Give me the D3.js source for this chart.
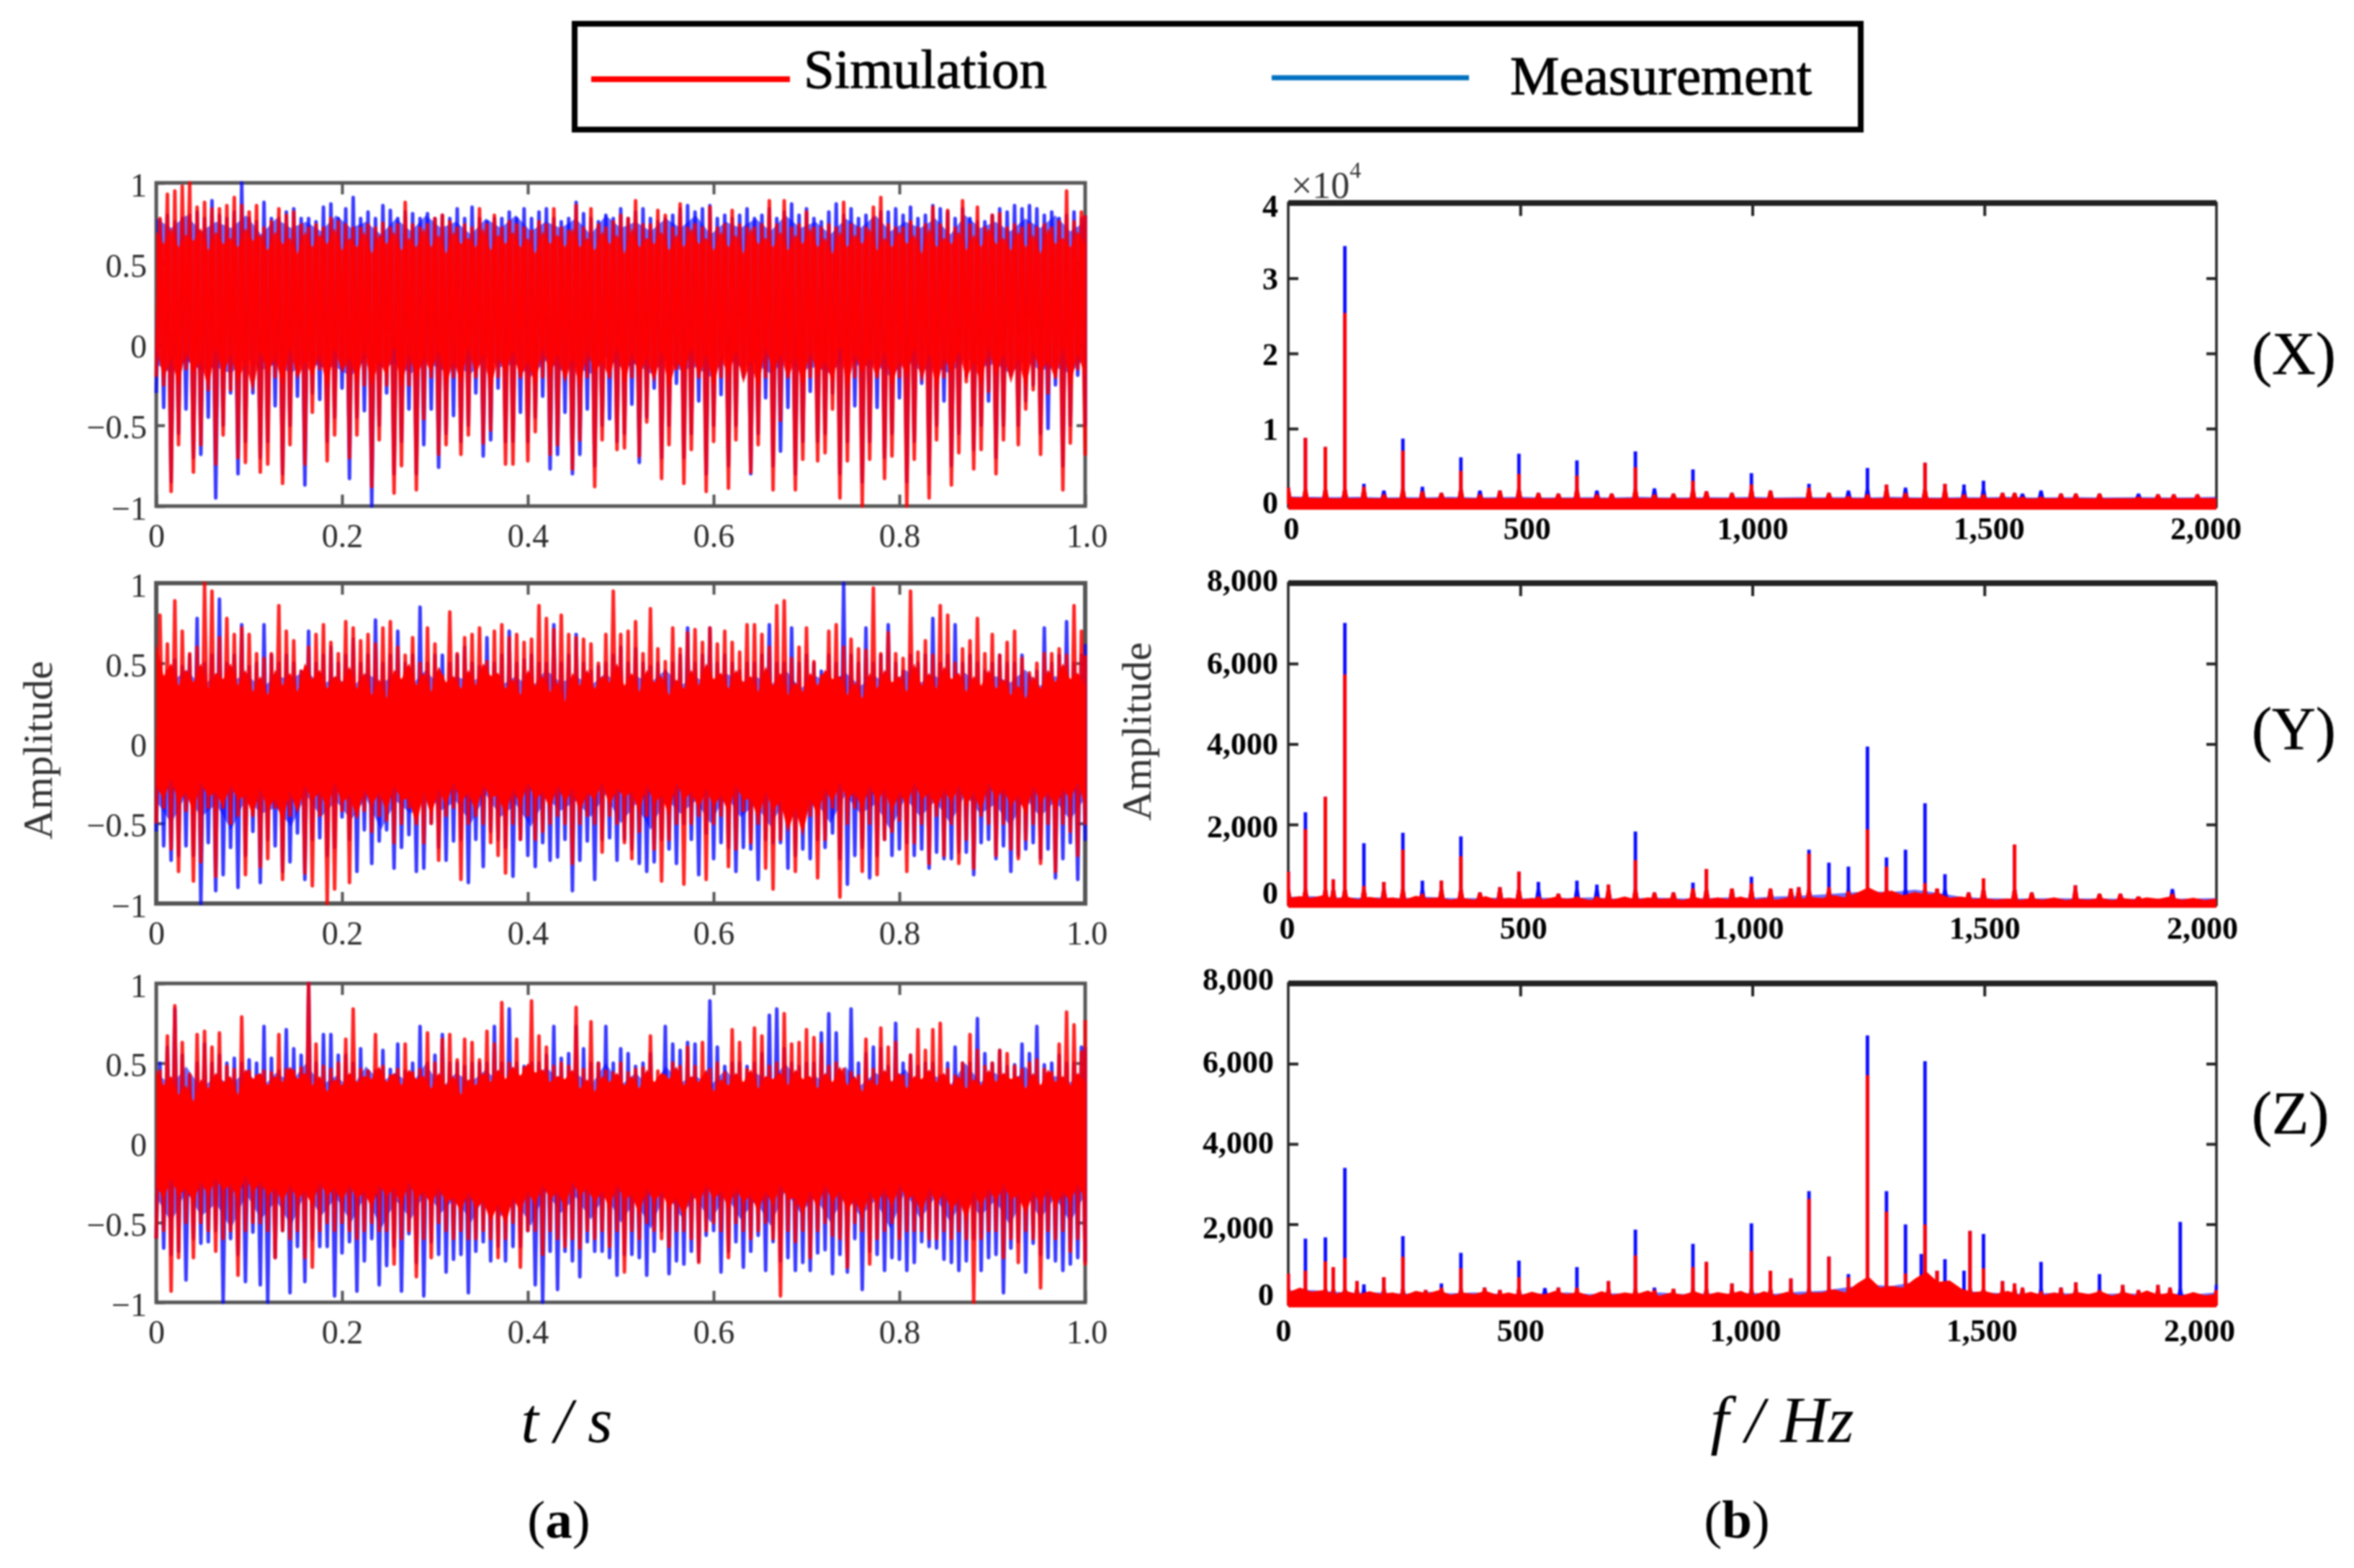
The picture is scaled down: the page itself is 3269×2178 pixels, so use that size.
<!DOCTYPE html>
<html lang="en">
<head>
<meta charset="UTF-8">
<title>Simulation and measurement</title>
<script src="https://cdn.jsdelivr.net/npm/d3@7/dist/d3.min.js"></script>
<style>
  body, html {
    margin: 0;
    background: #fff;
  }
  svg {
    display: block;
    filter: blur(1px);
    font-family: "Liberation Serif", serif;
  }
</style>
</head>
<body>
<svg width="3269" height="2178"></svg>
<script>
// time traces, read spike by spike from the picture (about 125 swings per panel)
const xSimHi = [.78,.93,.95,.98,1,.85,.88,.84,.84,.86,.91,.86,.82,.86,.72,.76,.84,.8,.82,.74,.72,.74,.72,.78,.76,.74,.72,.72,.74,.72,.75,.72,.74,.88,.74,.72,.74,.78,.8,.76,.72,.74,.72,.84,.74,.8,.72,.76,.74,.72,.7,.76,.74,.84,.72,.7,.86,.72,.84,.74,.72,.76,.8,.78,.89,.74,.74,.83,.8,.72,.87,.72,.74,.72,.85,.72,.74,.83,.74,.72,.72,.74,.89,.74,.89,.72,.74,.82,.72,.72,.74,.72,.88,.74,.72,.72,.85,.91,.74,.72,.72,.76,.72,.74,.85,.74,.83,.72,.89,.74,.85,.72,.8,.81,.72,.74,.72,.74,.72,.74,.72,.76,.95,.76,.82,.8];
const xSimLo = [-.2,-.25,-.91,-.62,-.15,-.79,-.62,-.28,-.74,-.56,-.28,-.7,-.73,-.12,-.79,-.74,-.2,-.86,-.62,-.18,-.74,-.42,-.15,-.72,-.56,-.12,-.7,-.56,-.25,-.88,-.59,-.25,-.92,-.75,-.25,-.9,-.46,-.2,-.68,-.62,-.2,-.68,-.56,-.2,-.61,-.53,-.2,-.74,-.74,-.2,-.72,-.54,-.2,-.68,-.62,-.2,-.77,-.59,-.2,-.88,-.59,-.2,-.65,-.64,-.2,-.69,-.48,-.18,-.83,-.62,-.15,-.86,-.65,-.2,-.91,-.6,-.2,-.89,-.59,-.15,-.79,-.62,-.2,-.9,-.47,-.2,-.9,-.71,-.2,-.72,-.67,-.4,-.95,-.72,-.2,-1,-.71,-.2,-.83,-.69,-.2,-1,-.71,-.15,-.95,-.59,-.2,-.87,-.67,-.23,-.77,-.65,-.29,-.8,-.59,-.15,-.62,-.4,-.28,-.68,-.3,-.2,-.9,-.61,-.15,-.68];
const xMeaHi = [.77,.8,.76,.78,.8,.82,.78,.89,.8,.78,.82,1,.78,.76,.88,.78,.78,.82,.84,.78,.78,.76,.85,.87,.78,.84,.91,.78,.82,.78,.86,.83,.78,.82,.81,.78,.81,.78,.8,.78,.84,.78,.85,.78,.76,.78,.78,.82,.78,.84,.78,.82,.84,.78,.76,.78,.88,.81,.78,.76,.8,.78,.84,.78,.82,.84,.78,.76,.78,.8,.84,.86,.82,.84,.86,.78,.8,.78,.8,.84,.78,.8,.84,.78,.82,.87,.8,.84,.78,.76,.82,.87,.8,.84,.78,.8,.78,.82,.82,.84,.8,.85,.78,.8,.86,.84,.82,.78,.84,.78,.76,.76,.8,.84,.82,.86,.84,.86,.84,.8,.82,.78,.8,.82,.78,.8];
const xMeaLo = [-.3,-.39,-.85,-.55,-.4,-.7,-.68,-.45,-.95,-.5,-.3,-.8,-.6,-.3,-.7,-.6,-.38,-.8,-.5,-.32,-.87,-.3,-.34,-.6,-.45,-.27,-.83,-.45,-.41,-1,-.5,-.3,-.8,-.6,-.4,-.8,-.62,-.4,-.76,-.55,-.44,-.6,-.5,-.3,-.69,-.59,-.27,-.6,-.6,-.42,-.6,-.45,-.32,-.77,-.68,-.42,-.8,-.68,-.4,-.75,-.5,-.46,-.6,-.55,-.37,-.73,-.45,-.27,-.7,-.5,-.24,-.7,-.55,-.35,-.8,-.5,-.31,-.75,-.5,-.2,-.8,-.55,-.33,-.75,-.66,-.39,-.8,-.6,-.29,-.6,-.55,-.3,-.8,-.6,-.38,-.85,-.6,-.39,-.7,-.55,-.33,-.85,-.6,-.24,-.8,-.5,-.35,-.75,-.55,-.2,-.65,-.5,-.35,-.7,-.5,-.19,-.5,-.35,-.25,-.55,-.52,-.25,-.75,-.5,-.19,-.5];
const xCoreHi = [.7,.62,.72,.6,.68,.64,.72,.58,.7,.62,.66,.6,.72,.64,.68,.58,.7,.62,.66,.56,.7,.6,.68,.62,.72,.58,.66,.6,.7,.56,.68,.62,.7,.58,.66,.6,.72,.6,.68,.56,.7,.62,.66,.6,.72,.58,.68,.62,.7,.6,.66,.56,.7,.62,.68,.6,.72,.6,.66,.58,.7,.62,.68,.56,.72,.6,.66,.62,.7,.58,.68,.6,.72,.62,.66,.58,.7,.6,.68,.56,.72,.62,.66,.6,.7,.58,.68,.62,.72,.6,.66,.56,.7,.6,.68,.62,.72,.58,.66,.6,.7,.62,.68,.56,.72,.6,.66,.62,.7,.58,.68,.6,.72,.62,.66,.58,.7,.6,.68,.56,.72,.62,.66,.6,.7,.62];
const xCoreLo = [-.02,-.22,-.08,-.26,-.04,-.18,-.1,-.28,-.02,-.2,-.06,-.24,-.1,-.3,-.04,-.18,-.08,-.26,-.02,-.22,-.1,-.2,-.06,-.28,-.02,-.18,-.08,-.24,-.04,-.26,-.1,-.2,-.02,-.28,-.06,-.22,-.08,-.18,-.04,-.26,-.1,-.24,-.02,-.2,-.06,-.28,-.08,-.18,-.04,-.22,-.1,-.26,-.02,-.2,-.06,-.24,-.08,-.28,-.04,-.18,-.1,-.22,-.02,-.26,-.06,-.2,-.08,-.24,-.04,-.28,-.1,-.18,-.02,-.22,-.06,-.26,-.08,-.2,-.04,-.24,-.1,-.28,-.02,-.18,-.06,-.22,-.08,-.26,-.04,-.2,-.1,-.24,-.02,-.28,-.06,-.18,-.08,-.22,-.04,-.26,-.1,-.2,-.02,-.24,-.06,-.28,-.08,-.18,-.04,-.22,-.1,-.26,-.02,-.2,-.06,-.24,-.08,-.28,-.04,-.18,-.1,-.22,-.02,-.26,-.06,-.2];
const xMeaCoreHi = [.78,.72,.8,.7,.76,.72,.8,.68,.78,.72,.76,.7,.8,.72,.76,.68,.78,.7,.8,.72,.76,.68,.78,.72,.8,.7,.76,.72,.78,.68,.8,.72,.76,.7,.78,.72,.8,.68,.76,.72,.78,.7,.8,.72,.76,.68,.78,.72,.8,.7,.76,.72,.78,.68,.8,.72,.76,.7,.78,.72,.8,.7,.76];
const xMeaCoreLo = [-.12,-.18,-.1,-.16,-.14,-.18,-.08,-.16,-.12,-.18,-.1,-.14,-.14,-.2,-.08,-.14,-.12,-.18,-.1,-.16,-.14,-.18,-.08,-.14,-.12,-.2,-.1,-.16,-.14,-.18,-.08,-.14,-.12,-.18,-.1,-.16,-.14,-.2,-.08,-.14,-.12,-.18,-.1,-.16,-.14,-.18,-.08,-.14,-.12,-.2,-.1,-.16,-.14,-.18,-.08,-.14,-.12,-.18,-.1,-.16,-.14,-.18,-.08];

const ySimHi = [.8,.62,.89,.7,.56,.6,1,.95,.66,.78,.68,.72,.68,.56,.53,.56,.86,.7,.64,.45,.6,.68,.74,.63,.56,.76,.72,.64,.68,.62,.72,.76,.6,.55,.66,.5,.72,.62,.42,.82,.56,.66,.68,.72,.51,.7,.74,.66,.68,.63,.65,.86,.78,.71,.8,.68,.66,.65,.62,.5,.68,.95,.68,.7,.76,.56,.84,.59,.51,.72,.59,.69,.71,.63,.72,.62,.7,.63,.57,.74,.74,.68,.6,.86,.89,.53,.6,.72,.51,.42,.7,.74,.6,.65,.59,.58,.97,.56,.69,.56,.53,.95,.57,.64,.55,.86,.8,.5,.59,.64,.78,.56,.68,.55,.63,.7,.53,.44,.5,.56,.56,.59,.55,.86,.7,.55];
const ySimLo = [-.5,-.4,-.66,-.8,-.42,-.86,-.74,-.4,-.83,-.4,-.5,-.45,-.82,-.45,-.77,-.72,-.4,-.85,-.45,-.4,-.81,-.89,-.45,-1,-.91,-.42,-.87,-.45,-.42,-.55,-.45,-.48,-.62,-.5,-.4,-.5,-.62,-.5,-.73,-.45,-.4,-.85,-.5,-.45,-.5,-.62,-.7,-.81,-.5,-.6,-.45,-.6,-.55,-.5,-.45,-.5,-.75,-.5,-.45,-.5,-.68,-.45,-.5,-.62,-.72,-.55,-.45,-.66,-.86,-.6,-.5,-.88,-.5,-.45,-.85,-.5,-.45,-.77,-.66,-.42,-.62,-.5,-.78,-.91,-.6,-.42,-.8,-.5,-.45,-.84,-.6,-.4,-.96,-.5,-.4,-.8,-.5,-.82,-.6,-.55,-.48,-.8,-.62,-.5,-.75,-.45,-.7,-.5,-.75,-.6,-.78,-.45,-.5,-.7,-.5,-.66,-.72,-.6,-.5,-.75,-.5,-.8,-.5,-.55,-.7,-.5];
const yMeaHi = [.5,.45,.52,.48,.55,.78,.5,.55,.9,.5,.55,.74,.48,.5,.74,.55,.5,.55,.5,.45,.7,.5,.55,.6,.5,.55,.65,.5,.55,.77,.5,.55,.7,.5,.55,.85,.5,.55,.55,.5,.55,.6,.5,.48,.66,.5,.55,.7,.5,.52,.55,.5,.5,.74,.5,.55,.68,.5,.45,.48,.5,.55,.6,.5,.59,.5,.48,.5,.45,.5,.55,.72,.5,.55,.72,.5,.55,.5,.45,.5,.5,.55,.74,.5,.5,.72,.5,.55,.5,.45,.55,.5,1,.55,.5,.72,.5,.55,.74,.5,.45,.55,.5,.55,.78,.5,.55,.74,.5,.55,.5,.45,.5,.55,.5,.5,.55,.42,.45,.72,.5,.55,.76,.5,.55,.62];
const yMeaLo = [-.55,-.64,-.73,-.7,-.64,-.7,-1,-.62,-.92,-.82,-.65,-.9,-.7,-.55,-.87,-.6,-.64,-.8,-.74,-.56,-.85,-.6,-.59,-.7,-.65,-.46,-.6,-.8,-.54,-.75,-.61,-.54,-.78,-.65,-.57,-.8,-.78,-.5,-.65,-.73,-.61,-.6,-.87,-.6,-.77,-.55,-.6,-.65,-.83,-.6,-.7,-.77,-.62,-.73,-.71,-.6,-.92,-.73,-.61,-.85,-.6,-.59,-.73,-.6,-.66,-.75,-.8,-.74,-.6,-.66,-.75,-.5,-.6,-.82,-.56,-.72,-.62,-.65,-.8,-.65,-.66,-.85,-.6,-.62,-.62,-.78,-.7,-.66,-.72,-.6,-.65,-.56,-.72,-.88,-.7,-.65,-.84,-.7,-.6,-.7,-.66,-.62,-.7,-.66,-.78,-.68,-.72,-.72,-.68,-.68,-.82,-.62,-.6,-.72,-.64,-.8,-.7,-.66,-.62,-.72,-.66,-.84,-.72,-.62,-.85,-.6];
const yCoreHi = [.62,.42,.5,.36,.46,.38,.5,.34,.44,.4,.5,.36,.46,.32,.42,.3,.46,.36,.44,.32,.5,.4,.46,.34,.42,.38,.48,.34,.44,.3,.4,.28,.46,.4,.5,.36,.44,.32,.48,.38,.42,.34,.46,.36,.5,.42,.44,.34,.4,.3,.46,.36,.42,.32,.38,.26,.44,.36,.46,.34,.42,.38,.5,.36,.44,.32,.46,.38,.42,.3,.4,.34,.46,.36,.5,.4,.44,.34,.46,.38,.42,.32,.48,.36,.44,.3,.38,.32,.44,.36,.46,.4,.42,.3,.38,.28,.44,.34,.46,.38,.42,.32,.5,.36,.44,.34,.48,.4,.44,.32,.42,.36,.46,.34,.4,.3,.36,.28,.42,.34,.46,.38,.5,.4,.44,.36];
const yCoreLo = [-.26,-.36,-.22,-.38,-.3,-.44,-.24,-.34,-.3,-.4,-.26,-.36,-.32,-.46,-.28,-.42,-.34,-.5,-.3,-.44,-.26,-.36,-.3,-.42,-.24,-.38,-.32,-.48,-.28,-.4,-.3,-.44,-.26,-.36,-.34,-.52,-.3,-.46,-.28,-.4,-.24,-.38,-.3,-.44,-.26,-.34,-.32,-.46,-.28,-.4,-.24,-.36,-.3,-.42,-.26,-.38,-.28,-.44,-.3,-.36,-.24,-.4,-.28,-.34,-.3,-.44,-.26,-.38,-.32,-.46,-.24,-.36,-.3,-.42,-.28,-.4,-.32,-.44,-.26,-.36,-.34,-.48,-.3,-.42,-.36,-.56,-.4,-.58,-.34,-.46,-.28,-.38,-.24,-.36,-.3,-.42,-.26,-.38,-.28,-.44,-.3,-.4,-.24,-.36,-.3,-.42,-.28,-.38,-.26,-.4,-.3,-.44,-.24,-.36,-.28,-.4,-.32,-.46,-.26,-.38,-.3,-.42,-.28,-.36,-.24,-.4];
const yMeaCoreHi = [.44,.38,.46,.36,.42,.38,.44,.34,.42,.4,.46,.36,.42,.34,.44,.38,.42,.36,.46,.34,.42,.38,.44,.36,.42,.34,.46,.38,.42,.36,.44,.34,.42,.38,.46,.36,.42,.34,.44,.38,.42,.36,.46,.34,.42,.38,.44,.36,.42,.34,.46,.38,.42,.36,.44,.34,.42,.38,.46,.36,.42,.38,.44];
const yMeaCoreLo = [-.36,-.5,-.32,-.46,-.38,-.54,-.34,-.44,-.4,-.52,-.32,-.46,-.36,-.48,-.34,-.54,-.36,-.44,-.3,-.42,-.36,-.5,-.32,-.46,-.38,-.52,-.34,-.42,-.36,-.46,-.32,-.5,-.38,-.54,-.34,-.44,-.36,-.5,-.32,-.46,-.38,-.52,-.34,-.42,-.36,-.5,-.32,-.44,-.38,-.54,-.34,-.46,-.36,-.5,-.32,-.44,-.38,-.52,-.34,-.46,-.36,-.48,-.34];

const zSimHi = [.45,.67,.86,.63,.43,.68,.7,.6,.69,.48,.46,.79,.45,.42,.45,.44,.68,.46,.45,.47,1,.62,.48,.46,.5,.65,.84,.46,.45,.68,.48,.42,.46,.62,.44,.46,.69,.5,.65,.68,.52,.65,.63,.52,.7,.62,.88,.5,.65,.47,.89,.67,.6,.48,.5,.48,.85,.46,.76,.5,.45,.44,.5,.44,.46,.47,.67,.45,.42,.5,.48,.6,.48,.63,.46,.5,.44,.71,.63,.46,.72,.67,.48,.5,.81,.62,.63,.71,.66,.62,.48,.5,.46,.44,.42,.65,.46,.72,.6,.63,.42,.55,.71,.58,.71,.75,.46,.42,.5,.68,.58,.48,.5,.58,.56,.48,.46,.5,.52,.46,.44,.62,.82,.74,.57,.77];
const zSimLo = [-.6,-.55,-.93,-.72,-.5,-.72,-.5,-.55,-.68,-.6,-.55,-.83,-.55,-.5,-.5,-.55,-.72,-.55,-.6,-.55,-.72,-.78,-.55,-.5,-.55,-.5,-.55,-.6,-.55,-.5,-.55,-.55,-.76,-.6,-.55,-.84,-.6,-.72,-.5,-.55,-.6,-.55,-.6,-.6,-.55,-.6,-.72,-.6,-.5,-.78,-.55,-.55,-.7,-.55,-.6,-.65,-.6,-.66,-.55,-.6,-.55,-.65,-.55,-.81,-.55,-.6,-.5,-.55,-.6,-.65,-.55,-.55,-.6,-.75,-.55,-.5,-.55,-.72,-.5,-.55,-.6,-.55,-.5,-.6,-.96,-.55,-.62,-.55,-.72,-.55,-.5,-.58,-.6,-.78,-.5,-.55,-.76,-.6,-.55,-.5,-.6,-.55,-.55,-.55,-.6,-.6,-.55,-.6,-.55,-.6,-1,-.6,-.55,-.55,-.72,-.6,-.75,-.55,-.6,-.91,-.55,-.6,-.55,-.68,-.6,-.76];
const zMeaHi = [.5,.6,.84,.55,.42,.5,.62,.5,.55,.5,.53,.5,.52,.5,.73,.53,.45,.71,.59,.55,1,.5,.68,.68,.55,.55,.5,.59,.45,.45,.58,.46,.62,.45,.5,.73,.5,.55,.68,.5,.5,.48,.5,.5,.5,.73,.5,.84,.5,.48,.5,.5,.55,.73,.53,.56,.73,.59,.5,.5,.73,.5,.59,.56,.48,.5,.56,.4,.73,.62,.58,.63,.62,.4,.89,.6,.48,.5,.5,.48,.5,.56,.8,.84,.59,.5,.48,.5,.5,.69,.81,.69,.42,.84,.5,.56,.6,.59,.48,.75,.5,.55,.48,.5,.5,.42,.5,.6,.5,.5,.78,.56,.5,.58,.48,.49,.62,.56,.73,.49,.5,.55,.5,.5,.6,.6];
const zMeaLo = [-.6,-.66,-.7,-.68,-.86,-.6,-.63,-.62,-.55,-1,-.6,-.7,-.87,-.56,-.89,-1,-.72,-.55,-.94,-.65,-.87,-.6,-.65,-.65,-.96,-.69,-.62,-.93,-.74,-.6,-.89,-.77,-.65,-.93,-.57,-.75,-.96,-.62,-.7,-.81,-.73,-.7,-.94,-.68,-.62,-.74,-.65,-.74,-.65,-.65,-.55,-.89,-1,-.68,-.92,-.68,-.74,-.84,-.62,-.68,-.68,-.72,-.83,-.7,-.7,-.72,-.83,-.68,-.55,-.82,-.74,-.76,-.68,-.74,-.58,-.55,-.81,-.68,-.62,-.78,-.68,-.58,-.8,-.62,-.74,-.72,-.8,-.75,-.8,-.69,-.67,-.82,-.7,-.81,-.6,-.92,-.68,-.7,-.8,-.72,-.73,-.8,-.75,-.62,-.65,-.66,-.73,-.75,-.8,-.74,-.6,-.8,-.72,-.7,-.94,-.66,-.62,-.81,-.63,-.7,-.72,-.74,-.8,-.76,-.72,-.74];
const zCoreHi = [.46,.36,.42,.3,.36,.26,.4,.34,.44,.38,.42,.3,.46,.4,.44,.36,.42,.38,.48,.4,.44,.36,.42,.32,.4,.36,.44,.38,.42,.4,.48,.38,.44,.36,.46,.4,.42,.34,.44,.36,.42,.3,.4,.36,.44,.38,.46,.4,.48,.42,.5,.44,.46,.38,.42,.4,.46,.34,.4,.32,.42,.38,.44,.36,.42,.34,.46,.38,.44,.4,.48,.36,.42,.38,.46,.32,.4,.36,.44,.38,.46,.34,.42,.4,.44,.36,.46,.4,.42,.34,.44,.38,.48,.36,.42,.32,.4,.36,.46,.38,.44,.34,.42,.4,.46,.38,.44,.36,.42,.34,.4,.36,.46,.38,.44,.4,.42,.34,.44,.36,.46,.38,.42,.36,.44,.38];
const zCoreLo = [-.26,-.36,-.22,-.34,-.28,-.38,-.24,-.34,-.22,-.3,-.26,-.36,-.2,-.32,-.24,-.34,-.28,-.38,-.26,-.36,-.3,-.4,-.24,-.34,-.28,-.38,-.26,-.36,-.3,-.42,-.26,-.34,-.28,-.4,-.24,-.36,-.3,-.4,-.28,-.38,-.34,-.44,-.3,-.42,-.36,-.5,-.38,-.52,-.34,-.44,-.3,-.4,-.26,-.36,-.3,-.42,-.24,-.34,-.28,-.38,-.3,-.42,-.26,-.36,-.32,-.46,-.28,-.38,-.3,-.42,-.34,-.48,-.3,-.4,-.26,-.36,-.3,-.42,-.28,-.38,-.32,-.44,-.3,-.4,-.26,-.36,-.34,-.46,-.3,-.42,-.26,-.38,-.3,-.44,-.34,-.48,-.3,-.4,-.28,-.42,-.26,-.36,-.32,-.46,-.28,-.4,-.3,-.44,-.34,-.5,-.3,-.42,-.28,-.38,-.26,-.36,-.32,-.46,-.3,-.4,-.28,-.42,-.3,-.38,-.26,-.36];
const zMeaCoreHi = [.44,.36,.48,.34,.42,.36,.46,.34,.44,.38,.5,.36,.42,.34,.48,.38,.44,.36,.5,.34,.44,.38,.46,.36,.42,.34,.48,.38,.44,.36,.5,.36,.44,.34,.48,.38,.42,.36,.46,.34,.44,.38,.5,.36,.42,.34,.48,.36,.44,.38,.46,.34,.42,.36,.5,.38,.44,.34,.48,.36,.42,.38,.46];
const zMeaCoreLo = [-.34,-.5,-.3,-.46,-.38,-.54,-.32,-.48,-.36,-.52,-.3,-.46,-.34,-.5,-.32,-.54,-.36,-.48,-.3,-.44,-.34,-.5,-.32,-.46,-.36,-.52,-.3,-.44,-.34,-.48,-.32,-.5,-.36,-.54,-.3,-.46,-.34,-.5,-.32,-.48,-.36,-.52,-.3,-.44,-.34,-.5,-.32,-.46,-.36,-.54,-.3,-.48,-.34,-.5,-.32,-.46,-.36,-.52,-.3,-.48,-.34,-.5,-.32];

// spectrum peaks: frequency, measurement and simulation height
const specXFreq = [0,37,80,122,163,206,247,289,330,372,413,456,497,539,582,622,665,697,748,789,830,872,901,956,998,1039,1122,1165,1207,1248,1289,1330,1372,1415,1456,1498,1539,1565,1582,1622,1665,1697,1748,1832,1874,1908,1959];
const specXMeas = [2100,8700,7500,34200,2600,1700,8600,2200,1400,6100,1700,1700,6600,1400,1300,5700,1700,1300,6900,2000,1300,4500,1600,1400,4000,1700,2600,1400,1700,4700,2500,2100,5400,2600,2500,3000,1400,1400,1300,1700,1300,1300,1300,1300,1200,1200,1200];
const specXSim = [2100,8700,7500,25300,2200,1200,7000,1600,1400,4300,1200,1700,3900,1400,1300,3700,1200,1300,4800,1200,1300,3000,1600,1400,2500,1700,2100,1400,1000,1200,2500,1400,5400,2600,1200,1200,1400,1400,900,900,1300,1300,1300,900,1200,1200,1200];
const specXFloor = [900,800,760,780,720,760,740,780,720,760,780,720,740,760,720,780,740,720,760,740,780,720,760,740,760,720,780,740,720,760,740,780,720,740,760,720,740,760,720,740,780];
const specXMeasFloor = [1000,950,900,950,850,900,880,950,850,900,950,850,880,900,850,950,880,850,900,880,950,850,900,880,900,850,950,880,850,900,880,950,850,880,900,850,880,900,850,880,950];

const specYFreq = [0,37,80,97,122,163,206,247,289,330,372,413,456,497,539,582,622,665,690,748,789,830,872,901,956,998,1039,1083,1100,1122,1165,1207,1248,1289,1330,1372,1398,1415,1466,1498,1565,1602,1696,1748,1793,1832,1905];
const specYMeas = [815,2290,2675,620,7000,1520,560,1780,590,590,1690,300,430,815,560,270,590,490,490,1810,300,300,540,880,400,690,400,400,430,1360,1040,940,3925,1170,1360,2515,400,750,300,650,1490,300,475,270,270,200,385];
const specYSim = [815,1870,2675,620,5720,460,560,1360,270,590,1200,300,430,815,200,270,200,200,490,1100,300,300,400,880,400,530,400,400,430,1260,430,330,1870,940,200,530,400,200,300,650,1490,300,475,270,270,200,270];
const specYFloor = [170,220,180,240,150,210,140,200,150,190,130,230,170,190,130,180,130,220,130,180,140,170,140,200,150,190,120,170,140,210,130,190,150,170,120,200,130,190,140,210,120,170,130,180,140,200,170,240,190,300,440,300,360,240,320,260,300,180,210,150,170,130,160,120,170,130,190,120,150,130,180,120,170,130,190,150,210,130,180,120,160];
const specYMeasFloor = [200,220,190,180,190,170,200,170,170,180,160,180,170,190,160,170,180,160,170,190,180,210,230,260,300,340,320,380,300,200,170,160,160,170,160,160,150,160,150,160,170];

const specZFreq = [0,37,80,97,122,148,163,206,247,296,330,372,423,456,497,553,582,622,690,748,789,830,872,901,956,998,1039,1083,1122,1165,1207,1248,1289,1330,1364,1372,1398,1415,1456,1469,1498,1539,1565,1582,1622,1665,1697,1748,1798,1832,1874,1900,1922,2000];
const specZMeas = [760,1630,1660,920,3390,570,490,670,1690,350,510,1275,410,350,1080,400,410,920,570,1850,410,380,1500,1050,510,2010,830,635,2810,1180,745,6690,2810,1980,1245,6050,830,1115,830,1820,1745,570,510,410,1050,410,540,745,475,350,475,410,2045,480];
const specZSim = [760,830,1065,920,1150,570,240,670,1180,350,410,890,410,350,670,250,410,410,570,1210,350,380,920,1050,510,1320,830,635,2620,1180,670,5700,2300,760,410,1980,830,410,240,1820,890,570,510,410,320,410,540,350,475,350,475,410,220,350];
const specZFloor = [300,420,320,360,260,340,250,330,260,300,230,340,280,360,240,300,260,340,240,300,230,320,240,340,260,310,220,330,240,300,260,350,220,300,240,330,230,310,260,340,220,330,230,320,240,300,300,380,300,520,700,420,460,420,640,820,560,600,400,300,340,260,340,240,320,230,300,240,310,260,330,220,320,230,350,240,300,220,310,230,260];
const specZMeasFloor = [350,360,320,290,300,270,320,280,300,270,260,280,300,260,280,270,300,260,280,270,290,270,320,340,420,500,460,560,520,350,300,280,270,290,270,260,280,260,270,250,300];

const timeTicks = [0, 0.2, 0.4, 0.6, 0.8, 1];
const timeTickLabels = ["0", "0.2", "0.4", "0.6", "0.8", "1.0"];
const ampTicks = [-1, -0.5, 0, 0.5, 1];
const ampTickLabels = ["\u22121", "\u22120.5", "0", "0.5", "1"];
const freqTicks = [0, 500, 1000, 1500, 2000];
const freqTickLabels = ["0", "500", "1,000", "1,500", "2,000"];

const svg = d3.select("svg");
const RED = "#ff0000", BLUE = "#0a0aff";

// one zig-zag trace: peaks and troughs take turns along the time axis
function zigzag(hi, lo) {
  const pts = [];
  lo.forEach((v, i) => pts.push([i / (lo.length - 1), v]));
  hi.forEach((v, i) => pts.push([Math.min(1, (i + 0.5) / (hi.length - 1)), v]));
  return pts.sort((a, b) => a[0] - b[0]);
}

function timePanel(box, s) {
  const x = d3.scaleLinear().domain([0, 1]).range([box.x0, box.x1]);
  const y = d3.scaleLinear().domain([-1, 1]).range([box.y1, box.y0]);
  const g = svg.append("g");
  const col = "#555";
  g.append("rect").attr("x", box.x0).attr("y", box.y0).attr("width", box.x1 - box.x0).attr("height", box.y1 - box.y0)
    .attr("fill", "none").attr("stroke", col).attr("stroke-width", box.sw);

  const bottom = d3.axisBottom(x).tickValues(timeTicks).tickSize(-16).tickFormat((d, i) => timeTickLabels[i]);
  const top = d3.axisTop(x).tickValues(timeTicks.slice(1, 5)).tickSize(-16).tickFormat("");
  const left = d3.axisLeft(y).tickValues(ampTicks).tickSize(-12).tickFormat((d, i) => ampTickLabels[i]);
  const right = d3.axisRight(y).tickValues(ampTicks.slice(1, 4)).tickSize(-12).tickFormat("");
  const gb = g.append("g").attr("transform", `translate(0,${box.y1})`).call(bottom);
  g.append("g").attr("transform", `translate(0,${box.y0})`).call(top);
  const gl = g.append("g").attr("transform", `translate(${box.x0},0)`).call(left);
  g.append("g").attr("transform", `translate(${box.x1},0)`).call(right);
  g.selectAll(".domain").remove();
  g.selectAll(".tick line").attr("stroke", col).attr("stroke-width", 4);
  gb.attr("font-family", null);
  gl.attr("font-family", null);
  gb.selectAll("text").attr("dy", null).attr("y", 57).attr("fill", "#2a2a2a").style("font-size", "46px");
  gb.select(".tick:last-of-type text").attr("x", 2);
  gl.selectAll("text").attr("dy", null).attr("x", -13).attr("y", 18).attr("fill", "#2a2a2a").style("font-size", "46px");

  const line = d3.line().x(d => x(d[0])).y(d => y(d[1]));
  const band = (hi, lo) => d3.area().x((d, i) => x(i / (hi.length - 1))).y0((d, i) => y(lo[i])).y1(d => y(d))(hi);
  g.append("path").attr("d", band(s.meaCoreHi, s.meaCoreLo)).attr("fill", BLUE).attr("fill-opacity", 0.6);
  g.append("path").attr("d", line(zigzag(s.meaHi, s.meaLo)))
    .attr("fill", "none").attr("stroke", BLUE).attr("stroke-width", 5).attr("stroke-linejoin", "round").attr("stroke-opacity", 0.8);
  g.append("path").attr("d", band(s.coreHi, s.coreLo)).attr("fill", RED).attr("fill-opacity", box.coreOpacity);
  g.append("path").attr("d", line(zigzag(s.simHi, s.simLo)))
    .attr("fill", "none").attr("stroke", RED).attr("stroke-width", 5).attr("stroke-linejoin", "round").attr("stroke-opacity", 0.85);
}

function specPanel(box, s) {
  const x = d3.scaleLinear().domain([0, 2000]).range([box.x0, box.x1]);
  const y = d3.scaleLinear().domain(s.domain).range([box.y1, box.y0]);
  const g = svg.append("g");
  const col = "#222";
  g.append("rect").attr("x", box.x0).attr("y", box.y0).attr("width", box.x1 - box.x0).attr("height", box.y1 - box.y0)
    .attr("fill", "none").attr("stroke", col).attr("stroke-width", 3.5);
  g.append("line").attr("x1", box.x0).attr("x2", box.x1).attr("y1", box.y0).attr("y2", box.y0)
    .attr("stroke", col).attr("stroke-width", 8);

  const bottom = d3.axisBottom(x).tickValues(freqTicks).tickSize(0).tickFormat((d, i) => freqTickLabels[i]);
  const top = d3.axisTop(x).tickValues(freqTicks.slice(1, 4)).tickSize(-18).tickFormat("");
  const left = d3.axisLeft(y).tickValues(s.yTicks).tickSize(-14).tickFormat((d, i) => s.yLabels[i]);
  const right = d3.axisRight(y).tickValues(s.yTicks.slice(1, -1)).tickSize(-14).tickFormat("");
  const gb = g.append("g").attr("transform", `translate(0,${box.y1})`).call(bottom);
  g.append("g").attr("transform", `translate(0,${box.y0})`).call(top);
  const gl = g.append("g").attr("transform", `translate(${box.x0},0)`).call(left);
  g.append("g").attr("transform", `translate(${box.x1},0)`).call(right);
  g.selectAll(".domain").remove();
  g.selectAll(".tick line").attr("stroke", col).attr("stroke-width", 4);
  gb.attr("font-family", null);
  gl.attr("font-family", null);
  gb.selectAll("text").attr("dy", null).attr("y", box.labelY).attr("fill", "#000")
    .style("font-size", "44px").style("font-weight", "bold")
    .attr("x", (d, i) => box.labelDx[i]);
  gl.selectAll("text").attr("dy", null).attr("x", box.yLabelX).attr("y", (d, i) => 14 + box.yLabelDy[i]).attr("fill", "#000")
    .style("font-size", "44px").style("font-weight", "bold");

  // everything in the plot stays inside the frame, as in the figure
  svg.append("clipPath").attr("id", box.id).append("rect")
    .attr("x", box.x0 - 2).attr("y", box.y0).attr("width", box.x1 - box.x0 + 4).attr("height", box.y1 - box.y0 + 6);
  const plot = g.append("g").attr("clip-path", `url(#${box.id})`);
  const stems = (heights, colour) => {
    const base = s.domain[1] * 0.05;
    const shape = (f, a) => d3.line()([
      [x(f - 17), y(0)], [x(f - 6), y(Math.min(a, base * 0.35))], [x(f - 2.6), y(Math.min(a, base))], [x(f - 2.6), y(a)],
      [x(f + 2.6), y(a)], [x(f + 2.6), y(Math.min(a, base))], [x(f + 6), y(Math.min(a, base * 0.35))], [x(f + 17), y(0)]]) + "Z";
    plot.append("g").selectAll("path").data(heights).join("path")
      .attr("d", (a, i) => shape(s.freq[i], a)).attr("fill", colour).attr("stroke", colour).attr("stroke-width", 1.5);
  };
  const floor = values => d3.area().x((d, i) => x(i * 2000 / (values.length - 1))).y0(box.y1 + 4).y1(d => y(d))(values);
  plot.append("path").attr("d", floor(s.measFloor)).attr("fill", BLUE).attr("fill-opacity", 0.6);
  stems(s.meas, BLUE);
  stems(s.sim, RED);
  plot.append("path").attr("d", floor(s.floor)).attr("fill", RED);
}

timePanel({x0: 217, x1: 1507, y0: 254, y1: 703, sw: 5, coreOpacity: 0.9},
  {simHi: xSimHi, simLo: xSimLo, meaHi: xMeaHi, meaLo: xMeaLo, coreHi: xCoreHi, coreLo: xCoreLo, meaCoreHi: xMeaCoreHi, meaCoreLo: xMeaCoreLo});
timePanel({x0: 217, x1: 1507, y0: 810, y1: 1255, sw: 6, coreOpacity: 1},
  {simHi: ySimHi, simLo: ySimLo, meaHi: yMeaHi, meaLo: yMeaLo, coreHi: yCoreHi, coreLo: yCoreLo, meaCoreHi: yMeaCoreHi, meaCoreLo: yMeaCoreLo});
timePanel({x0: 217, x1: 1507, y0: 1366, y1: 1809, sw: 5, coreOpacity: 1},
  {simHi: zSimHi, simLo: zSimLo, meaHi: zMeaHi, meaLo: zMeaLo, coreHi: zCoreHi, coreLo: zCoreLo, meaCoreHi: zMeaCoreHi, meaCoreLo: zMeaCoreLo});

specPanel({id: "clipX", x0: 1789, x1: 3078, y0: 282, y1: 704, labelY: 45, labelDx: [4, 9, 0, 6, -15], yLabelX: -14, yLabelDy: [-1, 1, 2, 1, 4]},
  {freq: specXFreq, meas: specXMeas, sim: specXSim, floor: specXFloor, measFloor: specXMeasFloor, domain: [-400, 40000],
   yTicks: [0, 10000, 20000, 30000, 40000], yLabels: ["0", "1", "2", "3", "4"]});
specPanel({id: "clipY", x0: 1789, x1: 3078, y0: 810, y1: 1257, labelY: 47, labelDx: [-2, 4, -6, 0, -20], yLabelX: -14, yLabelDy: [-17, 3, 0, 0, -4]},
  {freq: specYFreq, meas: specYMeas, sim: specYSim, floor: specYFloor, measFloor: specYMeasFloor, domain: [0, 8000],
   yTicks: [0, 2000, 4000, 6000, 8000], yLabels: ["0", "2,000", "4,000", "6,000", "8,000"]});
specPanel({id: "clipZ", x0: 1789, x1: 3078, y0: 1366, y1: 1812, labelY: 51, labelDx: [-7, 0, -10, -4, -24], yLabelX: -20, yLabelDy: [-14, 5, -2, -2, -6]},
  {freq: specZFreq, meas: specZMeas, sim: specZSim, floor: specZFloor, measFloor: specZMeasFloor, domain: [0, 8000],
   yTicks: [0, 2000, 4000, 6000, 8000], yLabels: ["0", "2,000", "4,000", "6,000", "8,000"]});

// exponent of the first spectrum
const expo = svg.append("text").attr("x", 1793).attr("y", 275).attr("fill", "#333").style("font-size", "52px").text("\u00d710");
expo.append("tspan").attr("dy", -28).style("font-size", "32px").text("4");

// legend
svg.append("rect").attr("x", 798).attr("y", 33).attr("width", 1786).attr("height", 147)
  .attr("fill", "#fff").attr("stroke", "#000").attr("stroke-width", 8);
svg.append("line").attr("x1", 821).attr("x2", 1097).attr("y1", 110).attr("y2", 110).attr("stroke", RED).attr("stroke-width", 8);
svg.append("line").attr("x1", 1766).attr("x2", 2040).attr("y1", 108).attr("y2", 108).attr("stroke", "#0070c0").attr("stroke-width", 7);
const labels = [
  {t: "Simulation", x: 1116, y: 122, s: 77, w: 1},
  {t: "Measurement", x: 2097, y: 131, s: 77, w: 1},
  {t: "(X)", x: 3127, y: 520, s: 84, w: 0.5},
  {t: "(Y)", x: 3127, y: 1041, s: 84, w: 0.5},
  {t: "(Z)", x: 3127, y: 1575, s: 84, w: 0.5}
];
svg.append("g").selectAll("text").data(labels).join("text")
  .attr("x", d => d.x).attr("y", d => d.y).attr("fill", "#000").attr("stroke", "#000").attr("stroke-width", d => d.w)
  .style("font-size", d => d.s + "px").text(d => d.t);

// axis titles
svg.append("text").attr("transform", "translate(72,1042) rotate(-90)").attr("text-anchor", "middle")
  .attr("fill", "#333").style("font-size", "58px").text("Amplitude");
svg.append("text").attr("transform", "translate(1598,1016) rotate(-90)").attr("text-anchor", "middle")
  .attr("fill", "#333").style("font-size", "58px").text("Amplitude");
svg.append("text").attr("x", 787).attr("y", 2003).attr("text-anchor", "middle").attr("fill", "#000")
  .style("font-size", "88px").style("font-style", "italic").text("t / s");
svg.append("text").attr("x", 2475).attr("y", 2003).attr("text-anchor", "middle").attr("fill", "#000")
  .style("font-size", "92px").style("font-style", "italic").text("f / Hz");

const capA = svg.append("text").attr("x", 776).attr("y", 2136).attr("text-anchor", "middle").attr("fill", "#000").style("font-size", "75px");
capA.append("tspan").text("(");
capA.append("tspan").style("font-weight", "bold").text("a");
capA.append("tspan").text(")");
const capB = svg.append("text").attr("x", 2412).attr("y", 2136).attr("text-anchor", "middle").attr("fill", "#000").style("font-size", "75px");
capB.append("tspan").text("(");
capB.append("tspan").style("font-weight", "bold").text("b");
capB.append("tspan").text(")");
</script>
</body>
</html>
